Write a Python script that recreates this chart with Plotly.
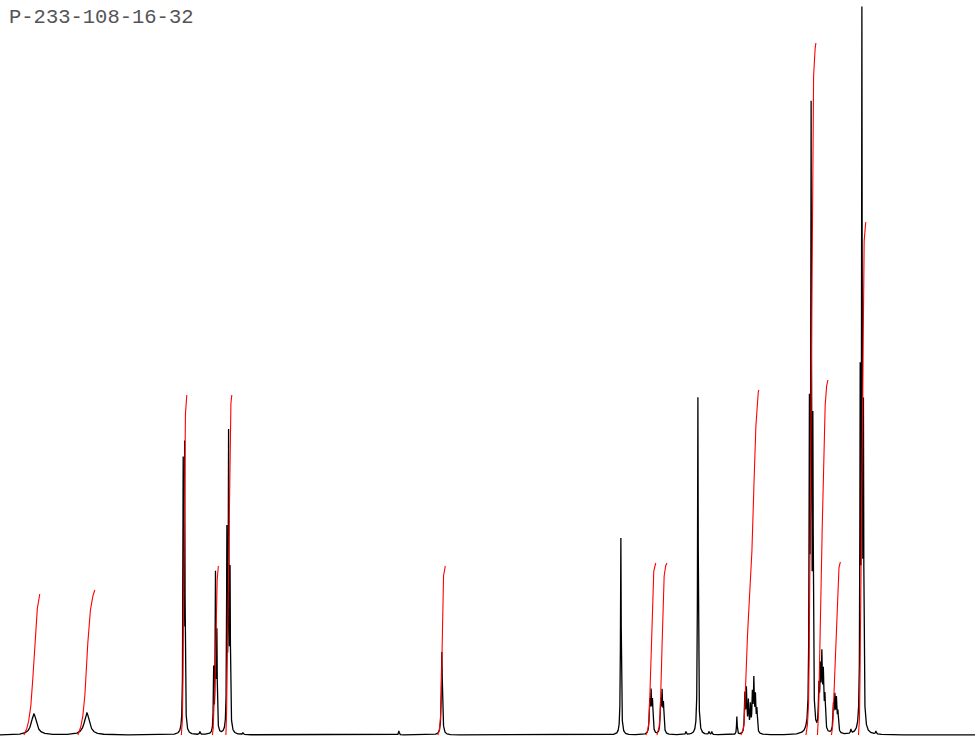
import numpy as np
import plotly.graph_objects as go

title_text = "P-233-108-16-32"

# Peak list (chemical shift in ppm, apex height, line width FWHM in ppm)
peak_ppm = [9.655, 9.084,
            8.046, 8.030,
            7.718, 7.698, 7.683,
            7.575, 7.557, 7.541,
            5.259,
            3.330,
            3.019, 3.004, 2.989,
            2.901, 2.886, 2.871,
            2.500,
            2.080,
            1.994, 1.977, 1.956, 1.934, 1.913, 1.897, 1.880, 1.864,
            1.298, 1.280, 1.261,
            1.196, 1.180, 1.164, 1.148, 1.131,
            1.040, 1.024, 1.007, 0.991,
            0.751, 0.733, 0.716,
            7.866, 7.403, 5.722, 2.629, 2.380, 2.350, 0.851, 0.582]
peak_height = [21, 22,
               262, 280,
               62, 155, 95,
               195, 288, 150,
               83,
               197,
               30, 38, 30,
               30, 38, 27,
               338,
               18,
               38, 42, 30, 26, 36, 50, 34, 22,
               302, 602, 287,
               40, 55, 68, 52, 32,
               26, 34, 31, 19,
               337, 699, 297,
               3, 2, 4, 3, 3, 3, 4, 3]
peak_width = [0.065, 0.065,
              0.008, 0.008,
              0.008, 0.008, 0.008,
              0.008, 0.008, 0.008,
              0.013,
              0.009,
              0.012, 0.012, 0.012,
              0.012, 0.012, 0.012,
              0.009,
              0.008,
              0.011, 0.011, 0.011, 0.011, 0.011, 0.011, 0.011, 0.011,
              0.009, 0.009, 0.009,
              0.012, 0.012, 0.012, 0.012, 0.012,
              0.012, 0.012, 0.012, 0.012,
              0.008, 0.008, 0.008,
              0.010, 0.010, 0.010, 0.010, 0.010, 0.010, 0.010, 0.010]

# Integration regions (start ppm, end ppm, integral curve height)
int_start = [9.763, 9.181, 8.066, 7.732, 7.586, 5.302, 3.060, 2.942, 2.037, 1.336, 1.212, 1.061, 0.770]
int_end   = [9.591, 8.998, 8.007, 7.667, 7.522, 5.221, 2.953, 2.834, 1.843, 1.228, 1.099, 0.964, 0.690]
int_value = [141, 145, 340, 169, 340, 169, 172, 172, 345, 692, 355, 173, 513]

ppm_left, ppm_right = 10.02, -0.486

# sampled spectrum from the peak list (Lorentzian lines)
x = np.linspace(ppm_left, ppm_right, 16000)
y = np.zeros_like(x)
for c, h, w in zip(peak_ppm, peak_height, peak_width):
    y += h / (1.0 + (2.0 * (x - c) / w) ** 2)

fig = go.Figure()
fig.add_trace(go.Scatter(x=x, y=y, mode="lines",
                         line=dict(color="black", width=1.3),
                         hoverinfo="skip", showlegend=False))

for s, e, v in zip(int_start, int_end, int_value):
    m = (x <= s) & (x >= e)
    xs = x[m]
    cum = np.cumsum(y[m])
    cum = cum - cum[0]
    cum = cum / cum[-1] * v
    fig.add_trace(go.Scatter(x=xs, y=cum, mode="lines",
                             line=dict(color="red", width=1.1),
                             hoverinfo="skip", showlegend=False))

fig.add_annotation(text=title_text, xref="paper", yref="paper",
                   x=7 / 975, y=1 - 18 / 740, xanchor="left", yanchor="middle",
                   showarrow=False,
                   font=dict(family="Liberation Mono, Courier New, monospace",
                             size=20.5, color="#555555"))

fig.update_layout(
    width=975, height=740,
    margin=dict(l=0, r=0, t=0, b=0),
    paper_bgcolor="white", plot_bgcolor="white",
    xaxis=dict(range=[ppm_left, ppm_right], visible=False),
    yaxis=dict(range=[-5, 735], visible=False),
)

fig.write_html("out.html", config={"displayModeBar": False, "staticPlot": True},
               post_script="document.body.style.margin='0';document.body.style.overflow='hidden';")
